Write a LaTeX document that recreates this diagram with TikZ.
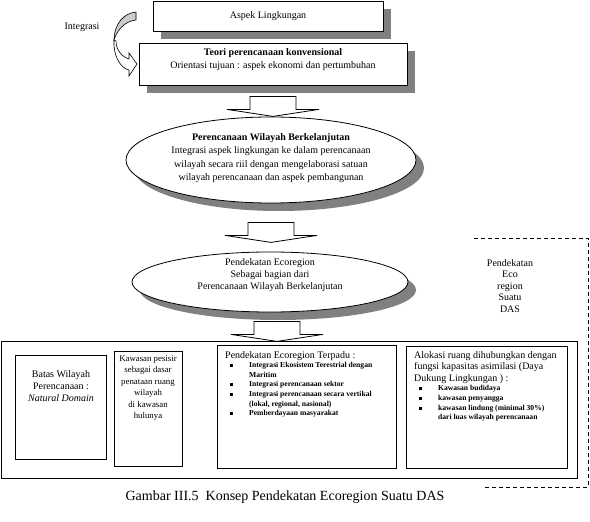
\documentclass[tikz,border=0pt]{standalone}
\usepackage{fontspec}
\setmainfont{Liberation Serif}
\usetikzlibrary{shapes.geometric,shadows,calc}
\newcommand{\besar}{\fontsize{10}{12}\selectfont\mdseries}
\newcommand{\poin}{\makebox[24pt][l]{\hspace{5pt}\rule[0.5pt]{3pt}{3pt}}}
\newcommand{\lanjut}{\hspace*{24pt}}
\tikzset{
  kotak/.style={draw=black,fill=white,line width=0.8pt,inner sep=0pt},           % kotak biasa
  bayang/.style={drop shadow={shadow xshift=8pt,shadow yshift=-8pt,fill=black!50,opacity=1}},
  lonjong/.style={ellipse,draw=black,fill=white,line width=0.8pt,inner sep=0pt},
  teks/.style={align=center,inner sep=0pt,font=\fontsize{10}{12}\selectfont},
  daftar/.style={align=left,inner sep=0pt,anchor=north west,font=\fontsize{7.6}{9.6}\selectfont\bfseries},
  panah/.style={draw=black,fill=white,line width=0.8pt},
  batas/.style={draw=black,line width=0.8pt,dash pattern=on 4pt off 3pt},
  panahturun/.pic={
    \path[panah] (-23,0) -- (23,0) -- (23,13) -- (46,13) -- (0,20) -- (-46,13) -- (-23,13) -- cycle;
  },
}

\begin{document}
\begin{tikzpicture}[x=1pt,y=-1pt]
  \useasboundingbox (0,0) rectangle (590,522);
  % bagian atas
  \node[kotak,bayang,teks,minimum width=230,minimum height=30] (aspek) at (268,16) {Aspek Lingkungan};
  \node[kotak,bayang,minimum width=268,minimum height=42] (teori) at (273,64) {};
  \node[teks,font=\fontsize{10}{13}\selectfont] (teoritks) at ([yshift=4.5pt]teori.center)
    {\textbf{Teori perencanaan konvensional}\\Orientasi tujuan : aspek ekonomi dan pertumbuhan};
  \node[teks] (integrasi) at (82,27) {Integrasi};
  % panah lengkung
  \filldraw[fill=black!20,line width=0.6pt] (136,12) .. controls (124,13) and (114,24) .. (114,40)
    .. controls (117,30) and (125,21) .. (136,20) -- cycle;
  \filldraw[fill=white,line width=0.6pt] (114,40) .. controls (113,55) and (120,68) .. (129,70)
    -- (129,76) -- (137,64) -- (129,53) -- (129,59) .. controls (122,57) and (116,50) .. (116,41) -- cycle;
  % ellips
  \pic at ([yshift=-11pt]teori.south) {panahturun};
  \node[lonjong,bayang,minimum width=290,minimum height=86] (rwb) at (271,160) {};
  \node[teks,font=\fontsize{10}{13.3}\selectfont] (rwbtks) at ([yshift=2pt]rwb.center)
    {\textbf{Perencanaan Wilayah Berkelanjutan}\\Integrasi aspek lingkungan ke dalam perencanaan\\
     wilayah secara riil dengan mengelaborasi satuan\\wilayah perencanaan dan aspek pembangunan};
  \pic at ([yshift=-19pt]rwb.south) {panahturun};
  \node[lonjong,bayang,minimum width=276,minimum height=60] (eco) at (270,282) {};
  \node[teks] (ecotks) at ([yshift=7pt]eco.center)
    {Pendekatan Ecoregion\\Sebagai bagian dari\\Perencanaan Wilayah Berkelanjutan};
  \pic at ([xshift=7pt,yshift=-9pt]eco.south) {panahturun};
  % kotak bawah
  \node[kotak,minimum width=576,minimum height=137] (luar) at (289,409.5) {};
  \node[kotak,minimum width=91,minimum height=104] (batas) at (60.5,407) {};
  \node[teks] (batastks) at (61,386) {Batas Wilayah\\Perencanaan :\\\textit{Natural Domain}};
  \node[kotak,minimum width=68,minimum height=115] (pesisir) at (148,408.5) {};
  \node[teks,font=\fontsize{8.8}{11.4}\selectfont] (pesisirtks) at (148,388)
    {Kawasan pesisir\\sebagai dasar\\penataan ruang\\wilayah\\di kawasan\\hulunya};
  \node[kotak,minimum width=179,minimum height=123] (terpadu) at (306.5,406.5) {};
  \node[daftar] (terpadutks) at (225,351) {
    {\besar Pendekatan Ecoregion Terpadu :}\\
    \poin Integrasi Ekosistem Terestrial dengan\\
    \lanjut Maritim\\
    \poin Integrasi perencanaan sektor\\
    \poin Integrasi perencanaan secara vertikal\\
    \lanjut (lokal, regional, nasional)\\
    \poin Pemberdayaan masyarakat};
  \node[kotak,minimum width=161,minimum height=122] (alokasi) at (486.5,407) {};
  \node[daftar] (alokasitks) at (414,351) {
    {\besar Alokasi ruang dihubungkan dengan}\\[2pt]
    {\besar fungsi kapasitas asimilasi (Daya}\\[2pt]
    {\besar Dukung Lingkungan ) :}\\
    \poin Kawasan budidaya\\
    \poin kawasan penyangga\\
    \poin kawasan lindung (minimal 30\%)\\
    \lanjut dari luas wilayah perencanaan};
  % bingkai putus-putus
  \draw[batas] (474,238) -- (588,238) -- (588,487) -- (483,487);
  \node[teks,font=\fontsize{10}{11.5}\selectfont] (das) at (510,286) {Pendekatan\\Eco\\region\\Suatu\\DAS};
  % keterangan
  \node[teks,font=\fontsize{14}{16}\selectfont] (judul) at (285,497)
    {Gambar III.5\ \ Konsep Pendekatan Ecoregion Suatu DAS};
\end{tikzpicture}
\end{document}
